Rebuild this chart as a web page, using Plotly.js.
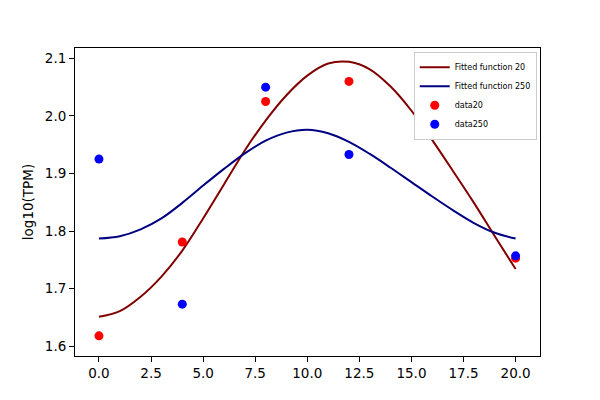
<!DOCTYPE html>
<html>
<head>
<meta charset="utf-8">
<script src="https://cdn.plot.ly/plotly-3.0.1.min.js"></script>
<style>
  html, body { margin: 0; padding: 0; background: #fff; }
  #fit-plot { width: 600px; height: 400px; }
</style>
</head>
<body>
<div id="fit-plot"></div>
<script>
// sample times (h) and measured log10(TPM)
const sampleTimes = [0, 4, 8, 12, 20];
const data20 = [1.618, 1.781, 2.025, 2.060, 1.753];
const data250 = [1.925, 1.673, 2.050, 1.933, 1.757];

// fitted curves at every hour
const fitTimes = [0, 1, 2, 3, 4, 5, 6, 7, 8, 9, 10, 11, 12, 13, 14, 15, 16, 17, 18, 19, 20];
const fit20 = [1.651, 1.661, 1.686, 1.721, 1.766, 1.822, 1.881, 1.940, 1.992, 2.036, 2.070,
               2.091, 2.094, 2.081, 2.051, 2.009, 1.958, 1.904, 1.849, 1.791, 1.734];
const fit250 = [1.787, 1.791, 1.803, 1.822, 1.849, 1.879, 1.908, 1.935, 1.957, 1.971, 1.976,
                1.970, 1.955, 1.934, 1.910, 1.885, 1.860, 1.836, 1.814, 1.797, 1.787];

function fitPlot() {
    const font = {family: 'DejaVu Sans', size: 13.5, color: 'black'};

    const data = [{
        x: fitTimes,
        y: fit20,
        name: 'Fitted function 20',
        mode: 'lines',
        line: {width: 2, color: '#800000', shape: 'spline'}
    },
    {
        x: fitTimes,
        y: fit250,
        name: 'Fitted function 250',
        mode: 'lines',
        line: {width: 2, color: '#000080', shape: 'spline'}
    },
    {
        x: sampleTimes,
        y: data20,
        name: 'data20',
        mode: 'markers',
        marker: {size: 9, color: '#ff0000'}
    },
    {
        x: sampleTimes,
        y: data250,
        name: 'data250',
        mode: 'markers',
        marker: {size: 9, color: '#0000ff'}
    }];

    const layout = {
        xaxis: {
            range: [-1.15, 21.17],
            tickmode: 'linear',
            tick0: 0,
            dtick: 2.5,
            tickformat: '.1f',
            ticks: 'outside',
            ticklen: 5,
            tickcolor: 'black',
            tickfont: font,
            showline: true,
            linecolor: 'black',
            linewidth: 1,
            mirror: true,
            showgrid: false,
            zeroline: false
        },
        yaxis: {
            range: [1.583, 2.118],
            tickmode: 'linear',
            tick0: 1.6,
            dtick: 0.1,
            tickformat: '.1f',
            ticks: 'outside',
            ticklen: 5,
            tickcolor: 'black',
            tickfont: font,
            title: {text: 'log10(TPM)', font: font, standoff: 8},
            showline: true,
            linecolor: 'black',
            linewidth: 1,
            mirror: true,
            showgrid: false,
            zeroline: false
        },
        legend: {
            x: 0.993,
            y: 0.988,
            xanchor: 'right',
            yanchor: 'top',
            bgcolor: 'white',
            bordercolor: '#cccccc',
            borderwidth: 1,
            font: {family: 'DejaVu Sans', size: 8, color: 'black'},
            itemwidth: 30,
            tracegroupgap: 0
        },
        showlegend: true,
        autosize: false,
        width: 600,
        height: 400,
        paper_bgcolor: 'white',
        plot_bgcolor: 'white',
        margin: {l: 75, r: 60, t: 48, b: 44}
    };

    Plotly.newPlot('fit-plot', data, layout, {displayModeBar: false, staticPlot: true});
}

fitPlot();
</script>
</body>
</html>
